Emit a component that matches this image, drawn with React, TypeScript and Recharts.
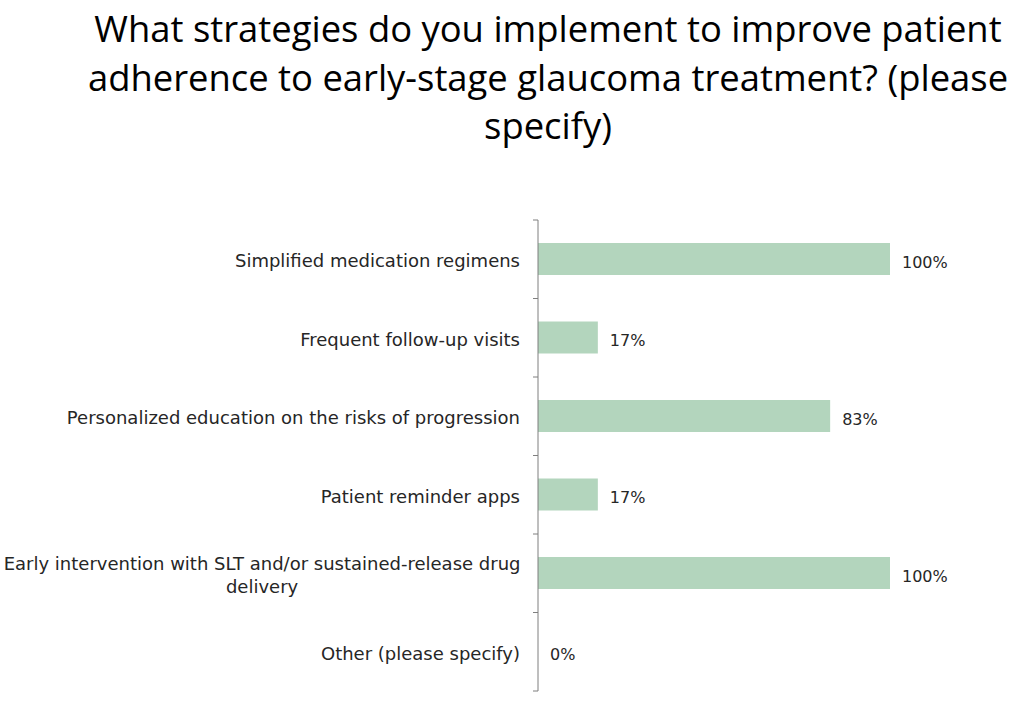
import React from "react";
import { BarChart, Bar, XAxis, YAxis, LabelList } from "recharts";

const categories = [
  "Simplified medication regimens",
  "Frequent follow-up visits",
  "Personalized education on the risks of progression",
  "Patient reminder apps",
  "Early intervention with SLT and/or sustained-release drug delivery",
  "Other (please specify)",
];
const values = [100, 17, 83, 17, 100, 0];
const titleLines = [
  "What strategies do you implement to improve patient",
  "adherence to early-stage glaucoma treatment? (please",
  "specify)",
];

const data = categories.map((c, i) => ({ name: c, value: values[i] }));

const LABEL_FONT = "'DejaVu Sans', sans-serif";
const CHAR_W = 9.05;

function wrap(text: string, max: number): string[] {
  const words = text.split(" ");
  const lines: string[] = [];
  let cur = "";
  for (const w of words) {
    const next = cur ? cur + " " + w : w;
    if (next.length > max && cur) {
      lines.push(cur);
      cur = w;
    } else cur = next;
  }
  if (cur) lines.push(cur);
  return lines;
}

const Tick = (props: any) => {
  const { x, y, payload, index, visibleTicksCount } = props;
  const half = payload.offset ?? 39.2;
  const lines = wrap(String(payload.value), 60);
  const lh = 23;
  const start = -((lines.length - 1) * lh) / 2;
  const axisX = x + 8;
  const right = x - 10;
  const multi = lines.length > 1;
  const maxLen = Math.max(...lines.map((l) => l.length));
  const cx = right - (maxLen * CHAR_W) / 2;
  return (
    <g>
      <line x1={axisX - 5} x2={axisX} y1={y - half} y2={y - half} stroke="#7f7f7f" />
      {index === visibleTicksCount - 1 && (
        <line x1={axisX - 5} x2={axisX} y1={y + half} y2={y + half} stroke="#7f7f7f" />
      )}
      <text
        y={y}
        textAnchor={multi ? "middle" : "end"}
        fill="#262626"
        fontSize={18}
        fontFamily={LABEL_FONT}
      >
        {lines.map((l, i) => (
          <tspan key={i} x={multi ? cx : right} dy={i === 0 ? start + 8 : lh}>
            {l}
          </tspan>
        ))}
      </text>
    </g>
  );
};

export default function App() {
  return (
    <div style={{ position: "absolute", left: 0, top: 0, width: 1018, height: 702, background: "#fff" }}>
      <div
        style={{
          position: "absolute",
          left: 48,
          top: 4,
          width: 1000,
          textAlign: "center",
          fontFamily: "'Open Sans', sans-serif",
          fontSize: 36.4,
          lineHeight: "48.5px",
          color: "#000",
          whiteSpace: "nowrap",
        }}
      >
        {titleLines.map((l, i) => (
          <div key={i}>{l}</div>
        ))}
      </div>
      <BarChart
        width={1018}
        height={702}
        data={data}
        layout="vertical"
        margin={{ top: 220, right: 128, bottom: 11, left: 0 }}
      >
        <XAxis type="number" domain={[0, 100]} hide />
        <YAxis
          type="category"
          dataKey="name"
          width={538}
          axisLine={{ stroke: "#7f7f7f" }}
          tickLine={false}
          tick={<Tick />}
          interval={0}
        />
        <Bar dataKey="value" fill="#b3d5bd" barSize={32} minPointSize={0.001} isAnimationActive={false}>
          <LabelList
            dataKey="value"
            position="right"
            offset={12}
            dy={3}
            formatter={(v: any) => `${v}%`}
            fill="#262626"
            fontSize={16}
            fontFamily={LABEL_FONT}
          />
        </Bar>
      </BarChart>
    </div>
  );
}
